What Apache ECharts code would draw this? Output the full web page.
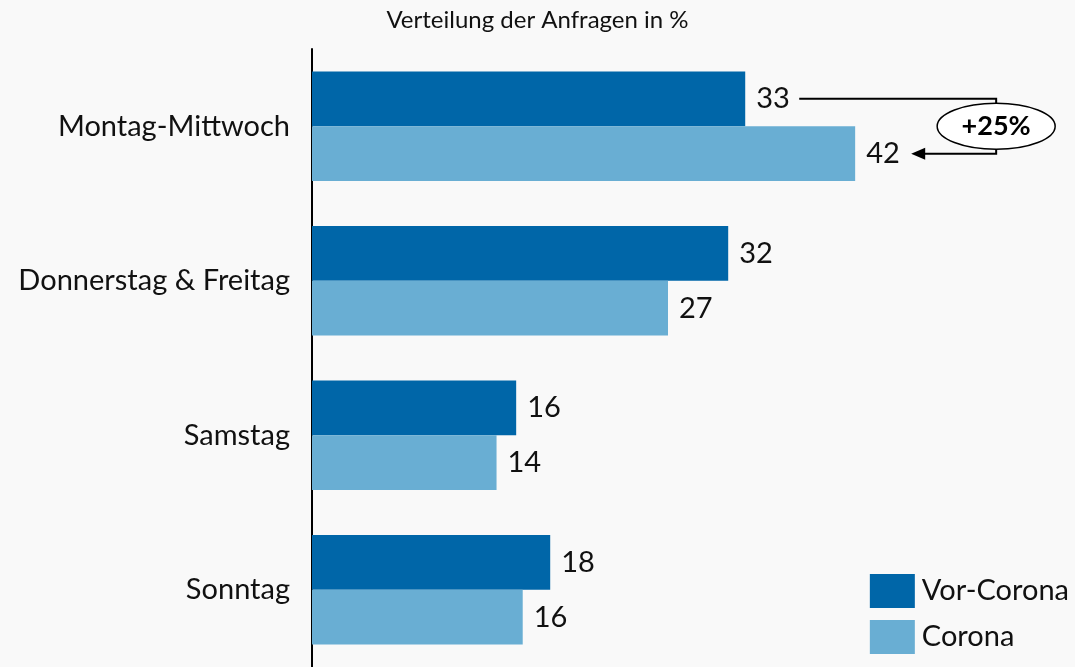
<!DOCTYPE html>
<html>
<head>
<meta charset="utf-8">
<script src="https://cdn.jsdelivr.net/npm/echarts@6/dist/echarts.min.js"></script>
<style>
  html, body { margin: 0; padding: 0; background: #f9f9f9; }
  #chart { width: 1075px; height: 667px; }
</style>
</head>
<body>
<div id="chart"></div>
<script>
const categories = ['Montag-Mittwoch', 'Donnerstag & Freitag', 'Samstag', 'Sonntag']
const vorCorona = [33.1, 31.8, 15.6, 18.2]
const corona = [41.5, 27.2, 14.1, 16.1]
const changeText = '+25%'

const font = 'Lato, "Open Sans", sans-serif'

var chart = echarts.init(document.getElementById('chart'))

chart.setOption({
  backgroundColor: '#f9f9f9',
  animation: false,
  title: {
    text: 'Verteilung der Anfragen in %',
    left: 'center',
    top: 3,
    textStyle: { fontFamily: font, fontSize: 24, fontWeight: 'normal', color: '#111' }
  },
  legend: {
    orient: 'vertical',
    right: 1,
    bottom: 8,
    itemWidth: 45,
    itemHeight: 34,
    itemGap: 12,
    icon: 'rect',
    textStyle: { fontFamily: font, fontSize: 29, color: '#111', padding: [0, 0, 0, 2] },
    data: ['Vor-Corona', 'Corona']
  },
  grid: { left: 312, right: 140, top: 49, bottom: -2, containLabel: false },
  xAxis: {
    type: 'value',
    min: 0,
    max: 47.6,
    show: false
  },
  yAxis: {
    type: 'category',
    inverse: true,
    data: categories,
    axisLine: { lineStyle: { color: '#000', width: 2 } },
    axisTick: { show: false },
    axisLabel: { fontFamily: font, fontSize: 29, color: '#111', margin: 22 }
  },
  series: [
    {
      name: 'Vor-Corona',
      type: 'bar',
      data: vorCorona,
      barGap: '0%',
      barCategoryGap: '29%',
      itemStyle: { color: '#0066a8' },
      label: {
        show: true, position: 'right', distance: 11,
        fontFamily: font, fontSize: 29, color: '#111',
        formatter: p => Math.round(p.value)
      }
    },
    {
      name: 'Corona',
      type: 'bar',
      data: corona,
      itemStyle: { color: '#69aed3' },
      label: {
        show: true, position: 'right', distance: 11,
        fontFamily: font, fontSize: 29, color: '#111',
        formatter: p => Math.round(p.value)
      }
    }
  ]
})

// annotation: arrow from Vor-Corona to Corona in the first category
function drawNote() {
  const l0 = chart.getModel().getSeriesByIndex(0).getData().getItemLayout(0)
  const l1 = chart.getModel().getSeriesByIndex(1).getData().getItemLayout(0)
  const y0 = l0.y + l0.height / 2
  const y1 = l1.y + l1.height / 2
  const x0 = l0.x + l0.width + 54
  const xr = l1.x + l1.width + 141
  const xe = l1.x + l1.width + 56
  const cy = (y0 + y1) / 2
  chart.setOption({
    graphic: [
      { type: 'polyline', shape: { points: [[x0, y0], [xr, y0], [xr, y1], [xe + 10, y1]] },
        style: { stroke: '#000', lineWidth: 2, fill: null } },
      { type: 'polygon', shape: { points: [[xe, y1], [xe + 14, y1 - 6], [xe + 14, y1 + 6]] },
        style: { fill: '#000' } },
      { type: 'ellipse', shape: { cx: xr, cy: cy, rx: 59, ry: 23 },
        style: { fill: '#fff', stroke: '#000', lineWidth: 1.5 } },
      { type: 'text', x: xr, y: cy,
        style: { text: changeText, font: 'bold 27px ' + font, fill: '#000', align: 'center', verticalAlign: 'middle' } }
    ]
  })
}
drawNote()
</script>
</body>
</html>
